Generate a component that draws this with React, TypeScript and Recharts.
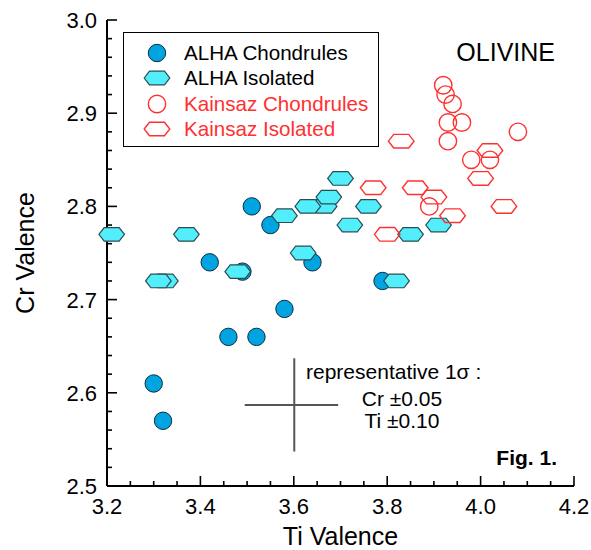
import React from "react";
import {
  Label,
  Legend,
  ReferenceLine,
  Scatter,
  ScatterChart,
  XAxis,
  YAxis,
} from "recharts";

// Ti valence (x) vs Cr valence (y)
const alhaChondrules = [
  { ti: 3.51, cr: 2.8 },
  { ti: 3.55, cr: 2.78 },
  { ti: 3.42, cr: 2.74 },
  { ti: 3.49, cr: 2.73 },
  { ti: 3.64, cr: 2.74 },
  { ti: 3.79, cr: 2.72 },
  { ti: 3.58, cr: 2.69 },
  { ti: 3.46, cr: 2.66 },
  { ti: 3.52, cr: 2.66 },
  { ti: 3.3, cr: 2.61 },
  { ti: 3.32, cr: 2.57 },
];

const alhaIsolated = [
  { ti: 3.21, cr: 2.77 },
  { ti: 3.37, cr: 2.77 },
  { ti: 3.325, cr: 2.72 },
  { ti: 3.31, cr: 2.72 },
  { ti: 3.48, cr: 2.73 },
  { ti: 3.58, cr: 2.79 },
  { ti: 3.62, cr: 2.75 },
  { ti: 3.665, cr: 2.8 },
  { ti: 3.63, cr: 2.8 },
  { ti: 3.675, cr: 2.81 },
  { ti: 3.7, cr: 2.83 },
  { ti: 3.76, cr: 2.8 },
  { ti: 3.72, cr: 2.78 },
  { ti: 3.85, cr: 2.77 },
  { ti: 3.91, cr: 2.78 },
  { ti: 3.82, cr: 2.72 },
];

const kainsazChondrules = [
  { ti: 3.92, cr: 2.93 },
  { ti: 3.925, cr: 2.92 },
  { ti: 3.94, cr: 2.91 },
  { ti: 3.93, cr: 2.89 },
  { ti: 3.96, cr: 2.89 },
  { ti: 3.93, cr: 2.87 },
  { ti: 4.08, cr: 2.88 },
  { ti: 3.98, cr: 2.85 },
  { ti: 4.02, cr: 2.85 },
  { ti: 3.89, cr: 2.8 },
];

const kainsazIsolated = [
  { ti: 3.83, cr: 2.87 },
  { ti: 3.77, cr: 2.82 },
  { ti: 3.86, cr: 2.82 },
  { ti: 3.9, cr: 2.81 },
  { ti: 3.94, cr: 2.79 },
  { ti: 3.8, cr: 2.77 },
  { ti: 4.0, cr: 2.83 },
  { ti: 4.02, cr: 2.86 },
  { ti: 4.05, cr: 2.8 },
];

const xTicks = [
  3.2, 3.25, 3.3, 3.35, 3.4, 3.45, 3.5, 3.55, 3.6, 3.65, 3.7, 3.75, 3.8, 3.85,
  3.9, 3.95, 4.0, 4.05, 4.1, 4.15, 4.2,
];
const yTicks = [
  2.5, 2.52, 2.54, 2.56, 2.58, 2.6, 2.62, 2.64, 2.66, 2.68, 2.7, 2.72, 2.74,
  2.76, 2.78, 2.8, 2.82, 2.84, 2.86, 2.88, 2.9, 2.92, 2.94, 2.96, 2.98, 3.0,
];

// representative 1 sigma cross
const sigmaTi = 3.595;
const sigmaCr = 2.587;
const errTi = 0.1;
const errCr = 0.05;

const FONT = "'Liberation Sans', Arial, Helvetica, sans-serif";
const BLUE = "#00a4e0";
const BLUE_EDGE = "#0b2c3c";
const CYAN = "#52eefc";
const CYAN_EDGE = "#2a4d52";
const RED = "#ff3030";

const isMajorX = (v: number) => Math.abs(v * 5 - Math.round(v * 5)) < 1e-6;
const isMajorY = (v: number) => Math.abs(v * 10 - Math.round(v * 10)) < 1e-6;

const hexPoints = (cx: number, cy: number) => {
  const w = 12.8;
  const f = 7.5;
  const h = 6.8;
  return `${cx - w},${cy} ${cx - f},${cy - h} ${cx + f},${cy - h} ${cx + w},${cy} ${cx + f},${cy + h} ${cx - f},${cy + h}`;
};

const BlueDot = (p: any) => (
  <circle cx={p.cx} cy={p.cy} r={8.7} fill={BLUE} stroke={BLUE_EDGE} strokeWidth={1} />
);
const CyanHex = (p: any) => (
  <polygon points={hexPoints(p.cx, p.cy)} fill={CYAN} stroke={CYAN_EDGE} strokeWidth={1.2} />
);
const RedRing = (p: any) => (
  <circle cx={p.cx} cy={p.cy} r={8.7} fill="none" stroke={RED} strokeWidth={1.4} />
);
const RedHex = (p: any) => (
  <polygon points={hexPoints(p.cx, p.cy)} fill="none" stroke={RED} strokeWidth={1.4} />
);

const BottomTick = ({ x, y, payload }: any) => {
  const major = isMajorX(payload.value);
  return (
    <g>
      <line x1={x} y1={y} x2={x} y2={y - (major ? 10 : 5)} stroke="#000" strokeWidth={1.6} />
      {major && (
        <text x={x} y={y + 28} textAnchor="middle" fontSize={22} fontFamily={FONT} fill="#000">
          {payload.value.toFixed(1)}
        </text>
      )}
    </g>
  );
};

const TopTick = ({ x, y, payload }: any) => (
  <line x1={x} y1={y} x2={x} y2={y + (isMajorX(payload.value) ? 10 : 5)} stroke="#000" strokeWidth={1.6} />
);

const LeftTick = ({ x, y, payload }: any) => {
  const major = isMajorY(payload.value);
  return (
    <g>
      <line x1={x} y1={y} x2={x + (major ? 10 : 5)} y2={y} stroke="#000" strokeWidth={1.6} />
      {major && (
        <text x={x - 10} y={y + 8} textAnchor="end" fontSize={22} fontFamily={FONT} fill="#000">
          {payload.value.toFixed(1)}
        </text>
      )}
    </g>
  );
};

const RightTick = ({ x, y, payload }: any) => (
  <line x1={x} y1={y} x2={x - (isMajorY(payload.value) ? 10 : 5)} y2={y} stroke="#000" strokeWidth={1.6} />
);

const legendItems = [
  { name: "ALHA Chondrules", color: "#000", Shape: BlueDot },
  { name: "ALHA Isolated", color: "#000", Shape: CyanHex },
  { name: "Kainsaz Chondrules", color: RED, Shape: RedRing },
  { name: "Kainsaz Isolated", color: RED, Shape: RedHex },
];

const LegendBox = () => (
  <div
    style={{
      width: 256,
      height: 115,
      boxSizing: "border-box",
      border: "1.6px solid #000",
      background: "#fff",
      position: "relative",
      fontFamily: FONT,
    }}
  >
    {legendItems.map((item, i) => (
      <div key={item.name} style={{ position: "absolute", left: 0, top: 20 + i * 25.3 - 11, height: 22, display: "flex", alignItems: "center" }}>
        <svg width={60} height={22} style={{ display: "block" }}>
          <item.Shape cx={33} cy={11} />
        </svg>
        <span style={{ fontSize: 20.6, color: item.color, lineHeight: "22px", whiteSpace: "nowrap" }}>{item.name}</span>
      </div>
    ))}
  </div>
);

export default function App() {
  return (
    <div style={{ position: "relative", width: 591, height: 550, background: "#fff" }}>
      <style>{"body{margin:0}"}</style>
      <ScatterChart width={591} height={550} margin={{ top: 20, right: 17, left: 0, bottom: 0 }}>
        <XAxis
          type="number"
          dataKey="ti"
          domain={[3.2, 4.2]}
          ticks={xTicks}
          interval={0}
          height={64}
          tickSize={0}
          tickMargin={0}
          tick={<BottomTick />}
          axisLine={{ stroke: "#000", strokeWidth: 2 }}
        >
          <Label value="Ti Valence" position="insideBottom" offset={5} style={{ fontSize: 25, fontFamily: FONT, fill: "#000" }} />
        </XAxis>
        <YAxis
          type="number"
          dataKey="cr"
          domain={[2.5, 3.0]}
          ticks={yTicks}
          interval={0}
          width={107}
          tickSize={0}
          tickMargin={0}
          tick={<LeftTick />}
          axisLine={{ stroke: "#000", strokeWidth: 2 }}
        >
          <Label value="Cr Valence" angle={-90} position="insideLeft" offset={25} style={{ fontSize: 25, fontFamily: FONT, fill: "#000", textAnchor: "middle" }} />
        </YAxis>
        <XAxis
          xAxisId="top"
          orientation="top"
          type="number"
          domain={[3.2, 4.2]}
          allowDataOverflow
          ticks={xTicks}
          interval={0}
          height={0}
          tickSize={0}
          tickMargin={0}
          tick={<TopTick />}
          axisLine={{ stroke: "#000", strokeWidth: 2 }}
        />
        <YAxis
          yAxisId="right"
          orientation="right"
          type="number"
          domain={[2.5, 3.0]}
          allowDataOverflow
          ticks={yTicks}
          interval={0}
          width={0}
          tickSize={0}
          tickMargin={0}
          tick={<RightTick />}
          axisLine={{ stroke: "#000", strokeWidth: 2 }}
        />
        <Legend
          layout="vertical"
          align="center"
          verticalAlign="middle"
          wrapperStyle={{ left: 123, top: 32, width: 256, height: 115 }}
          content={() => <LegendBox />}
        />
        <ReferenceLine
          segment={[
            { x: sigmaTi - errTi, y: sigmaCr },
            { x: sigmaTi + errTi, y: sigmaCr },
          ]}
          stroke="#555"
          strokeWidth={2}
        />
        <ReferenceLine
          segment={[
            { x: sigmaTi + 0.006, y: sigmaCr - errCr },
            { x: sigmaTi + 0.006, y: sigmaCr + errCr },
          ]}
          stroke="#555"
          strokeWidth={2}
        />
        <Scatter name="ALHA Chondrules" data={alhaChondrules} shape={BlueDot} isAnimationActive={false} />
        <Scatter name="ALHA Isolated" data={alhaIsolated} shape={CyanHex} isAnimationActive={false} />
        <Scatter name="Kainsaz Chondrules" data={kainsazChondrules} shape={RedRing} isAnimationActive={false} />
        <Scatter name="Kainsaz Isolated" data={kainsazIsolated} shape={RedHex} isAnimationActive={false} />
      </ScatterChart>
      <svg width={591} height={550} style={{ position: "absolute", left: 0, top: 0, pointerEvents: "none" }}>
        <g fontFamily={FONT} fill="#000">
          <text x={555} y={61} textAnchor="end" fontSize={25}>OLIVINE</text>
          <text x={557} y={465} textAnchor="end" fontSize={21} fontWeight="bold">Fig. 1.</text>
          <text x={306} y={379} fontSize={21}>representative 1σ :</text>
          <text x={402} y={406} textAnchor="middle" fontSize={21}>Cr ±0.05</text>
          <text x={402} y={428} textAnchor="middle" fontSize={21}>Ti ±0.10</text>
        </g>
      </svg>
    </div>
  );
}
